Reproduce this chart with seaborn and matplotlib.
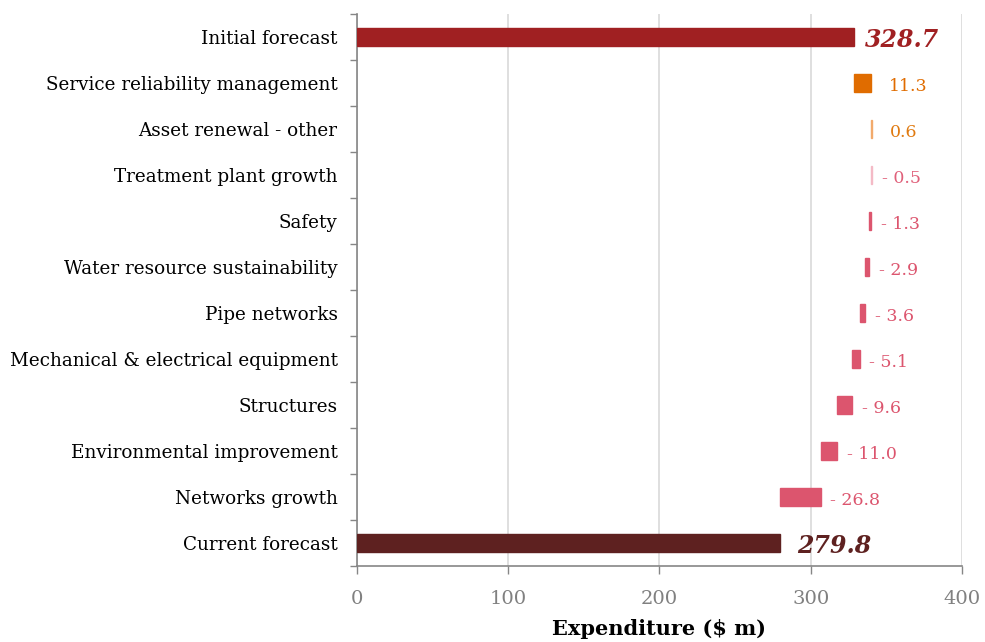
import numpy as np
import pandas as pd
import matplotlib
matplotlib.use("Agg")
import matplotlib.pyplot as plt
import seaborn as sns

#------------------
# data
categories = ['Initial forecast', 'Service reliability management', 'Asset renewal - other',
              'Treatment plant growth', 'Safety', 'Water resource sustainability',
              'Pipe networks', 'Mechanical & electrical equipment', 'Structures',
              'Environmental improvement', 'Networks growth', 'Current forecast']
changes = [328.7, 11.3, 0.6, -0.5, -1.3, -2.9, -3.6, -5.1, -9.6, -11.0, -26.8, 279.8]
is_total = [True] + [False] * 10 + [True]
bar_colors = ['#A02022', '#E06C00', '#F2AA6C', '#F4BAC6', '#DC556E', '#DC556E', '#DC556E',
              '#DC556E', '#DC556E', '#DC556E', '#DC556E', '#5E2120']
label_colors = ['#A02022', '#E06C00', '#E07A10', '#E0607A', '#DC556E', '#DC556E', '#DC556E',
                '#DC556E', '#DC556E', '#DC556E', '#DC556E', '#5E2120']
xticks = [0, 100, 200, 300, 400]

#------------------
# waterfall bases
lefts, rights = [], []
running = 0.0
for val, tot in zip(changes, is_total):
    if tot:
        lefts.append(0.0)
        rights.append(val)
        running = val
    else:
        new = running + val
        lefts.append(min(running, new))
        rights.append(max(running, new))
        running = new

df = pd.DataFrame({'category': categories, 'left': lefts, 'right': rights})
df['width'] = df['right'] - df['left']

sns.set_theme(style='white')
plt.rcParams['font.family'] = ['DejaVu Serif']

fig = plt.figure(figsize=(9.85, 6.42), dpi=100)
ax = fig.add_axes([0.3624, 0.1184, 0.6142, 0.8598])

for i, row in df.iterrows():
    sns.barplot(x=[row['width']], y=[row['category']], order=categories,
                left=row['left'], color=bar_colors[i], saturation=1,
                width=0.38, ax=ax, zorder=3, edgecolor=bar_colors[i], linewidth=1.0)

# value labels
for i, row in df.iterrows():
    if is_total[i]:
        txt = f'{changes[i]:.1f}'
        off = 8 if i == 0 else 12
        ax.annotate(txt, (row['right'], i), xytext=(off, -2), textcoords='offset points',
                    va='center', ha='left', fontsize=17, fontweight='bold',
                    fontstyle='italic', color=label_colors[i])
    else:
        v = changes[i]
        txt = f'{v:.1f}' if v >= 0 else f'- {abs(v):.1f}'
        off = 13 if v >= 0 else 7
        ax.annotate(txt, (row['right'], i), xytext=(off, -2.5), textcoords='offset points',
                    va='center', ha='left', fontsize=12.5, color=label_colors[i])

ax.set_xlim(0, 400)
ax.set_ylim(11.5, -0.5)
ax.set_xticks(xticks)
ax.set_xticklabels([str(t) for t in xticks])
ax.set_yticks(range(len(categories)))
ax.set_yticklabels(categories)
ax.set_yticks(np.arange(-0.5, 12, 1), minor=True)
ax.tick_params(axis='y', which='major', length=0, pad=14, labelsize=13.2, labelcolor='black')
ax.tick_params(axis='y', which='minor', length=5, width=1, color='#868686', left=True)
ax.tick_params(axis='x', which='major', length=6, width=1, color='#868686', bottom=True,
               pad=11, labelsize=14, labelcolor='#808080')

ax.xaxis.grid(True, color='#D9D9D9', linewidth=1.2)
ax.yaxis.grid(False)
ax.set_axisbelow(True)

for s in ['top', 'right']:
    ax.spines[s].set_visible(False)
for s in ['left', 'bottom']:
    ax.spines[s].set_color('#868686')
    ax.spines[s].set_linewidth(1.2)

ax.set_ylabel('')
ax.set_xlabel('Expenditure ($ m)', fontsize=15, fontweight='bold', color='black', labelpad=8)

fig.savefig('out.png', dpi=100)
